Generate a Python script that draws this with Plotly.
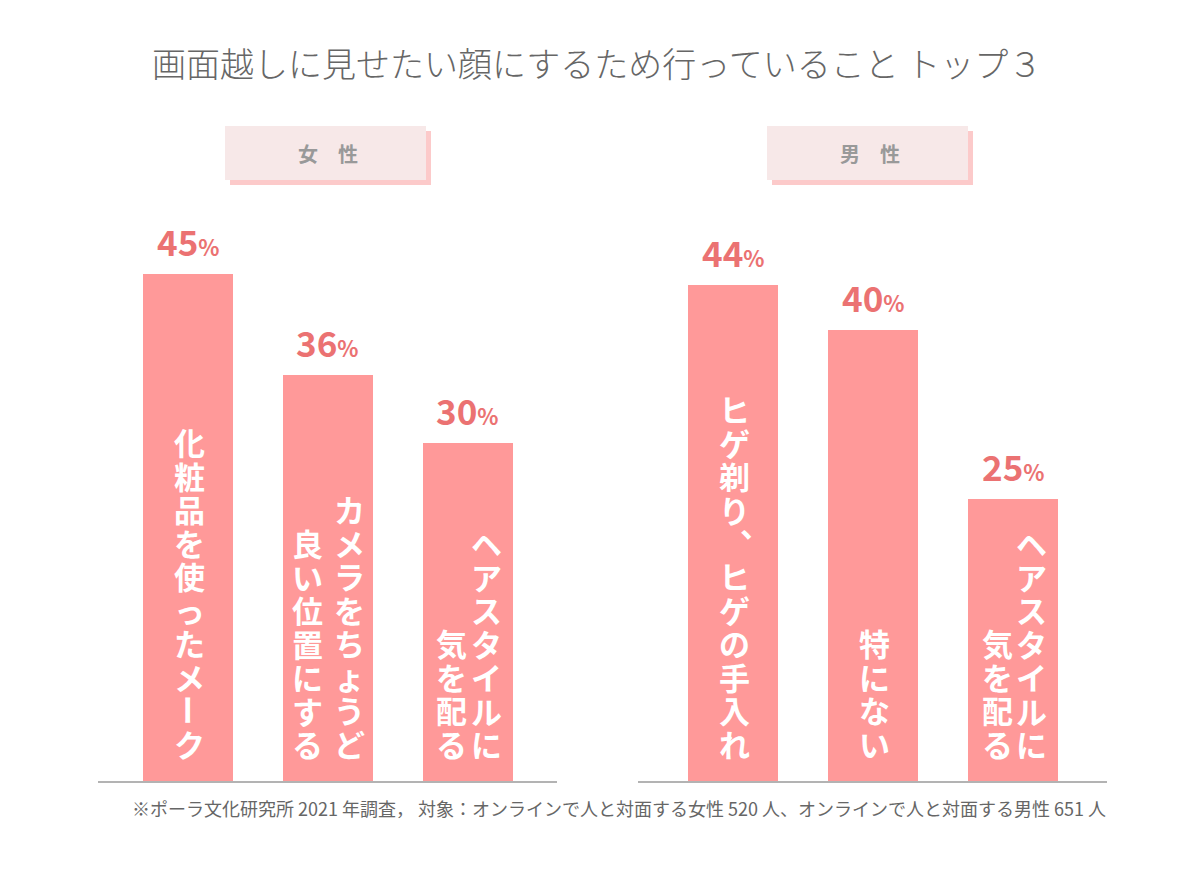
import plotly.graph_objects as go

# chart text / data
title = "画面越しに見せたい顔にするため行っていること トップ３"
note = "※ポーラ文化研究所 2021 年調査， 対象：オンラインで人と対面する女性 520 人、オンラインで人と対面する男性 651 人"

women_header = "女　性"
women_items = ["化粧品を使ったメーク", "カメラをちょうど\n良い位置にする", "ヘアスタイルに\n気を配る"]
women_pct = [45, 36, 30]

men_header = "男　性"
men_items = ["ヒゲ剃り、ヒゲの手入れ", "特にない", "ヘアスタイルに\n気を配る"]
men_pct = [44, 40, 25]

W, H = 1200, 880
OFF = 8  # page puts the plot 8px in from the corner
FONT = "Noto Sans CJK JP"
BAR = "#ff9999"
VAL = "#eb7272"
GREY = "#666666"

def px(x):
    return (x - OFF) / W

def py(y):
    return 1 - (y - OFF) / H

fig = go.Figure()
fig.add_trace(go.Bar(x=list(range(len(women_items))), y=women_pct, xaxis="x", yaxis="y",
                     marker=dict(color=BAR, line=dict(width=0)), width=0.643,
                     hoverinfo="skip", showlegend=False))
fig.add_trace(go.Bar(x=list(range(len(men_items))), y=men_pct, xaxis="x2", yaxis="y2",
                     marker=dict(color=BAR, line=dict(width=0)), width=0.643,
                     hoverinfo="skip", showlegend=False))

ann = []
FS = 31        # glyph size of the vertical labels
PITCH = 33.5   # distance between characters

def vertical_label(i, text, gap, xref, yref):
    #japanese vertical writing: columns right to left, bottom aligned
    #line spacing in plotly is 1.3*base font, so base font = pitch/1.3, glyphs enlarged by span
    cols = text.split("\n")
    n_cols = len(cols)
    base_font = dict(family=FONT, size=PITCH / 1.3, color="white", weight=700)
    for c, col in enumerate(cols):
        xoff = (n_cols - 1) / 2 * gap - c * gap + 1
        n = len(col)
        cell_y = lambda k: 21 + (n - 1 - k) * PITCH + PITCH / 2
        seg = []
        def flush(seg):
            if not seg:
                return
            k0, k1 = seg[0][0], seg[-1][0]
            txt = "<br>".join("<span style='font-size:{}px'>{}</span>".format(FS, ch) for _, ch in seg)
            ann.append(dict(x=i, y=0, xref=xref, yref=yref, text=txt, showarrow=False,
                            xanchor="center", yanchor="middle", xshift=xoff,
                            yshift=(cell_y(k0) + cell_y(k1)) / 2, font=base_font))
        for k, ch in enumerate(col):
            if ch in "ー、":
                flush(seg)
                seg = []
                xs, ys, angle = xoff, cell_y(k), 0
                if ch == "ー":
                    angle = 90
                else:
                    xs += 0.7 * FS
                    ys += 0.62 * FS
                ann.append(dict(x=i, y=0, xref=xref, yref=yref, text=ch, showarrow=False,
                                xanchor="center", yanchor="middle", xshift=xs, yshift=ys,
                                textangle=angle,
                                font=dict(family=FONT, size=FS, color="white", weight=700)))
            else:
                seg.append((k, ch))
        flush(seg)

def value_label(i, v, xref, yref):
    ann.append(dict(x=i, y=v, xref=xref, yref=yref, showarrow=False,
                    text="{}<span style='font-size:22px'>%</span>".format(v),
                    xanchor="center", yanchor="bottom", yshift=6,
                    font=dict(family=FONT, size=35, color=VAL, weight=700)))

women_gap = [0, 42, 35]
men_gap = [0, 0, 34]
for i, (t, v) in enumerate(zip(women_items, women_pct)):
    vertical_label(i, t, women_gap[i], "x", "y")
    value_label(i, v, "x", "y")
for i, (t, v) in enumerate(zip(men_items, men_pct)):
    vertical_label(i, t, men_gap[i], "x2", "y2")
    value_label(i, v, "x2", "y2")

# panel headers
shapes = []
for cx, label in [(327, women_header), (869, men_header)]:
    shapes.append(dict(type="rect", xref="paper", yref="paper", layer="below",
                       x0=px(cx - 97), x1=px(cx + 104), y0=py(185), y1=py(131),
                       fillcolor="#fccaca", line=dict(width=0)))
    shapes.append(dict(type="rect", xref="paper", yref="paper", layer="below",
                       x0=px(cx - 102), x1=px(cx + 99), y0=py(180), y1=py(126),
                       fillcolor="#f7e8e8", line=dict(width=0)))
    ann.append(dict(x=px(cx + 1), y=py(153), xref="paper", yref="paper", text=label,
                    showarrow=False, xanchor="center", yanchor="middle",
                    font=dict(family=FONT, size=20, color="#999999", weight=700)))

ann.append(dict(x=px(597), y=py(62), xref="paper", yref="paper", text=title, showarrow=False,
                xanchor="center", yanchor="middle",
                font=dict(family=FONT, size=34, color=GREY, weight=300)))
ann.append(dict(x=px(130), y=py(808), xref="paper", yref="paper", text=note, showarrow=False,
                xanchor="left", yanchor="middle",
                font=dict(family=FONT, size=18, color=GREY)))

base = 781 - OFF
ymax = base / 11.27
axis_common = dict(showgrid=False, zeroline=False, showticklabels=False, ticks="",
                   showline=True, linecolor="#b3b3b3", linewidth=2, fixedrange=True)
fig.update_layout(
    width=W, height=H,
    margin=dict(l=0, r=0, t=0, b=0),
    paper_bgcolor="white", plot_bgcolor="white",
    xaxis=dict(domain=[px(98), px(557)], range=[-0.643, 2.636], anchor="y", **axis_common),
    xaxis2=dict(domain=[px(638), px(1107)], range=[-0.679, 2.671], anchor="y2", **axis_common),
    yaxis=dict(domain=[1 - base / H, 1], range=[0, ymax], visible=False, anchor="x"),
    yaxis2=dict(domain=[1 - base / H, 1], range=[0, ymax], visible=False, anchor="x2"),
    annotations=ann,
    shapes=shapes,
    bargap=0,
)

fig.write_html("out.html")
